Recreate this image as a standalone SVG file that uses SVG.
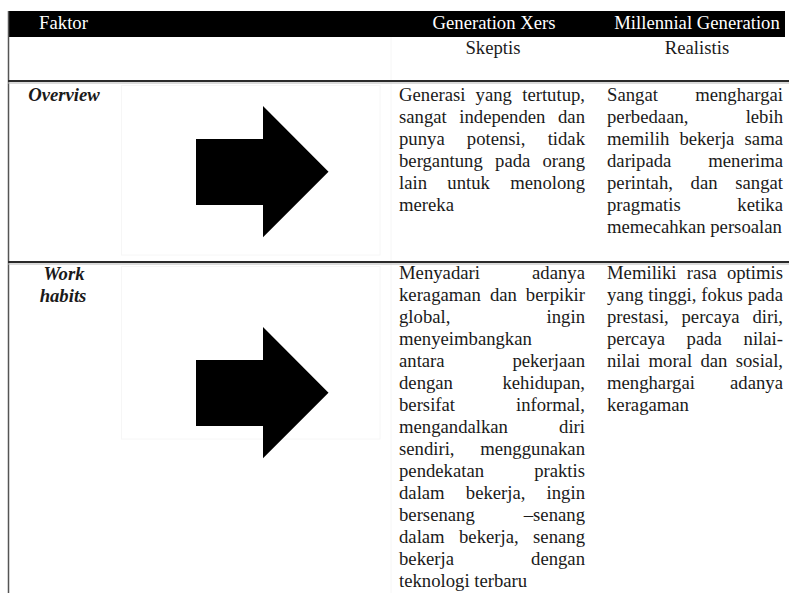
<svg xmlns="http://www.w3.org/2000/svg" width="789" height="593" viewBox="0 0 789 593">
<style>
  text { font-family: "Liberation Serif", "Times New Roman", serif; font-size: 18.7px; fill: #1a1a1a; }
  .hd { fill: #ffffff; }
  .fk { font-weight: bold; font-style: italic; text-anchor: middle; }
  .mid { text-anchor: middle; }
  .end { text-anchor: end; }
  .faint { stroke: #f6f6f6; stroke-width: 1; fill: none; }
  .sep { stroke: #2a2a2a; stroke-width: 2; }
  .sep2 { stroke: #b5b5b5; stroke-width: 1; }
  .arrow { fill: #000000; }
</style>
<rect x="0" y="0" width="789" height="593" fill="#ffffff"/>

<g id="grid">
  <rect x="8" y="11" width="777" height="26" fill="#000000"/>
  <line x1="8.5" y1="11" x2="8.5" y2="593" stroke="#555555" stroke-width="1.5"/>
  <line class="faint" x1="391" y1="37" x2="391" y2="593"/>
  <line class="sep" x1="8" y1="81" x2="789" y2="81"/>
  <line class="sep2" x1="8" y1="83" x2="789" y2="83"/>
  <line class="sep" x1="8" y1="262" x2="789" y2="262"/>
  <line class="sep2" x1="8" y1="264" x2="789" y2="264"/>
  <rect class="faint" x="121.5" y="85.5" width="258.5" height="169.5"/>
  <rect class="faint" x="121.5" y="266.5" width="258.5" height="172.5"/>
</g>

<g id="header">
  <text class="hd mid" x="63.5" y="29">Faktor</text>
  <text class="hd mid" x="494" y="29">Generation Xers</text>
  <text class="hd mid" x="697" y="29">Millennial Generation</text>
  <text class="mid" x="493" y="54">Skeptis</text>
  <text class="mid" x="697" y="54">Realistis</text>
</g>

<g id="row-overview">
  <text class="fk" x="64" y="101">Overview</text>
  <polygon class="arrow" points="196,139 263,139 263,106 328.5,171.7 263,237.3 263,205 196,205"/>
  <g id="overview-genx">
    <text x="399" y="101">Generasi</text><text x="475.6" y="101">yang</text><text class="end" x="585" y="101">tertutup,</text>
    <text x="399" y="123">sangat</text><text x="459.3" y="123">independen</text><text class="end" x="585" y="123">dan</text>
    <text x="399" y="145">punya</text><text x="466.8" y="145">potensi,</text><text class="end" x="585" y="145">tidak</text>
    <text x="399" y="167">bergantung</text><text x="495.1" y="167">pada</text><text class="end" x="585" y="167">orang</text>
    <text x="399" y="189">lain</text><text x="447.3" y="189">untuk</text><text class="end" x="585" y="189">menolong</text>
    <text x="399" y="211">mereka</text>
  </g>
  <g id="overview-millennial">
    <text x="607" y="101">Sangat</text><text class="end" x="783" y="101">menghargai</text>
    <text x="607" y="123">perbedaan,</text><text class="end" x="783" y="123">lebih</text>
    <text x="607" y="145">memilih</text><text x="679.4" y="145">bekerja</text><text class="end" x="783" y="145">sama</text>
    <text x="607" y="167">daripada</text><text class="end" x="783" y="167">menerima</text>
    <text x="607" y="189">perintah,</text><text x="690.6" y="189">dan</text><text class="end" x="783" y="189">sangat</text>
    <text x="607" y="211">pragmatis</text><text class="end" x="783" y="211">ketika</text>
    <text x="607" y="233">memecahkan persoalan</text>
  </g>
</g>

<g id="row-workhabits">
  <text class="fk" x="64" y="280">Work</text>
  <text class="fk" x="63" y="302">habits</text>
  <polygon class="arrow" points="196,360 263,360 263,327 328.5,392.7 263,458.3 263,426 196,426"/>
  <g id="work-genx">
    <text x="399" y="279">Menyadari</text><text class="end" x="585" y="279">adanya</text>
    <text x="399" y="301">keragaman</text><text x="489.9" y="301">dan</text><text class="end" x="585" y="301">berpikir</text>
    <text x="399" y="323">global,</text><text class="end" x="585" y="323">ingin</text>
    <text x="399" y="345">menyeimbangkan</text>
    <text x="399" y="367">antara</text><text class="end" x="585" y="367">pekerjaan</text>
    <text x="399" y="389">dengan</text><text class="end" x="585" y="389">kehidupan,</text>
    <text x="399" y="411">bersifat</text><text class="end" x="585" y="411">informal,</text>
    <text x="399" y="433">mengandalkan</text><text class="end" x="585" y="433">diri</text>
    <text x="399" y="455">sendiri,</text><text class="end" x="585" y="455">menggunakan</text>
    <text x="399" y="477">pendekatan</text><text class="end" x="585" y="477">praktis</text>
    <text x="399" y="499">dalam</text><text x="465.8" y="499">bekerja,</text><text class="end" x="585" y="499">ingin</text>
    <text x="399" y="521">bersenang</text><text class="end" x="585" y="521">–senang</text>
    <text x="399" y="543">dalam</text><text x="459" y="543">bekerja,</text><text class="end" x="585" y="543">senang</text>
    <text x="399" y="565">bekerja</text><text class="end" x="585" y="565">dengan</text>
    <text x="399" y="587">teknologi terbaru</text>
  </g>
  <g id="work-millennial">
    <text x="607" y="279">Memiliki</text><text x="686.7" y="279">rasa</text><text class="end" x="783" y="279">optimis</text>
    <text x="607" y="301">yang</text><text x="648.2" y="301">tinggi,</text><text x="701.3" y="301">fokus</text><text class="end" x="783" y="301">pada</text>
    <text x="607" y="323">prestasi,</text><text x="681.5" y="323">percaya</text><text class="end" x="783" y="323">diri,</text>
    <text x="607" y="345">percaya</text><text x="686.6" y="345">pada</text><text class="end" x="783" y="345">nilai-</text>
    <text x="607" y="367">nilai</text><text x="648.5" y="367">moral</text><text x="700.4" y="367">dan</text><text class="end" x="783" y="367">sosial,</text>
    <text x="607" y="389">menghargai</text><text class="end" x="783" y="389">adanya</text>
    <text x="607" y="411">keragaman</text>
  </g>
</g>
</svg>
